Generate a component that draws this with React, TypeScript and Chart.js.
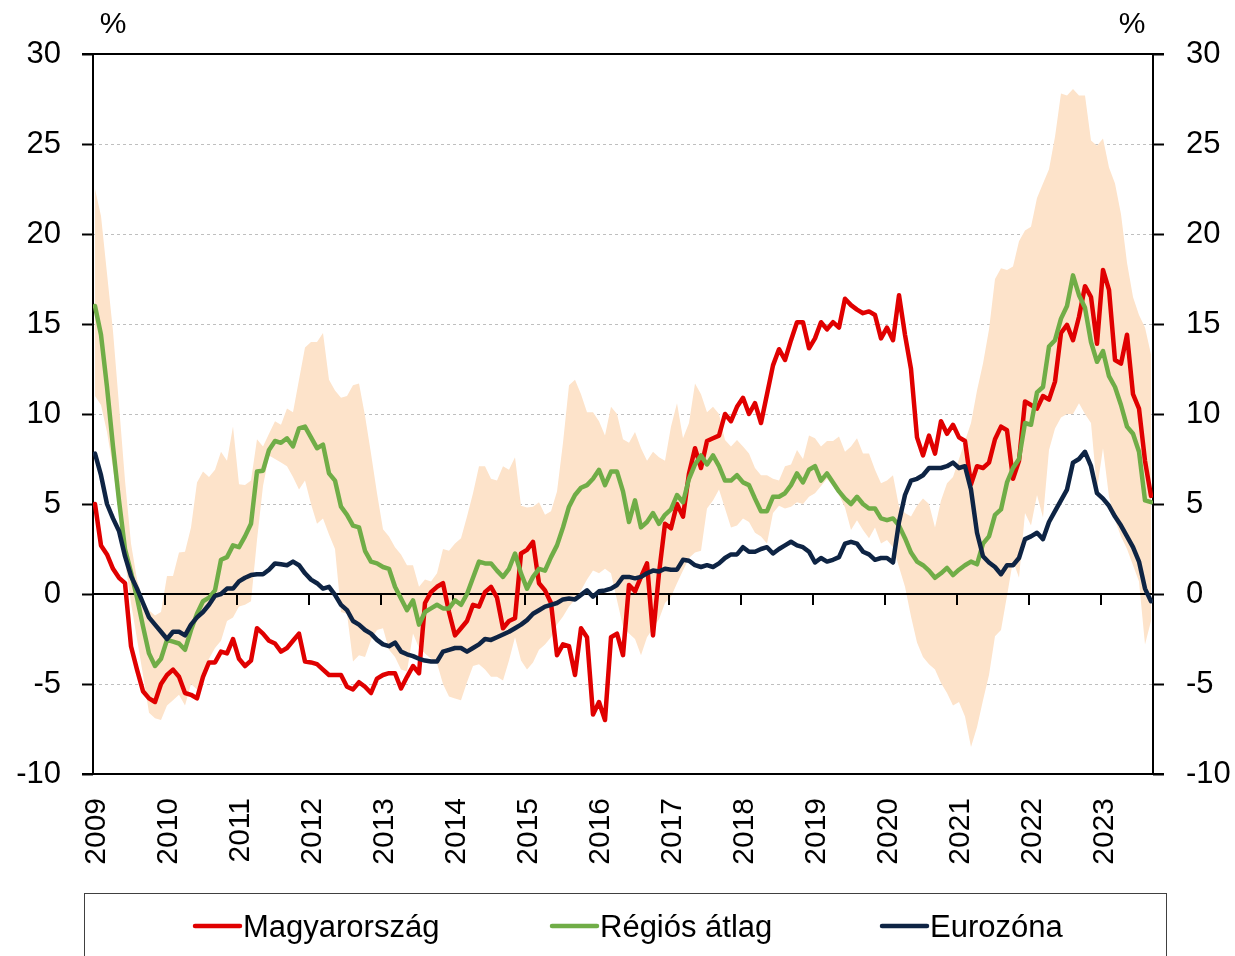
import React, { useEffect, useRef } from 'react';
import { Chart, registerables } from 'chart.js';

Chart.register(...registerables);

const FONT = '"Liberation Sans", Arial, sans-serif';

// Year labels (January of each year)
const yearLabels = ['2009', '2010', '2011', '2012', '2013', '2014', '2015', '2016', '2017', '2018', '2019', '2020', '2021', '2022', '2023'];

// Monthly values, Jan 2009 .. Sep 2023
const hungary = [
  5.0, 2.7, 2.2, 1.4, 0.9, 0.6, -2.9, -4.2, -5.4, -5.8, -6.0, -5.0,
  -4.5, -4.2, -4.6, -5.5, -5.6, -5.8, -4.6, -3.8, -3.8, -3.2, -3.3, -2.5,
  -3.6, -4.0, -3.7, -1.9, -2.2, -2.6, -2.75, -3.2, -3.0, -2.6, -2.2, -3.75,
  -3.8, -3.9, -4.2, -4.5, -4.5, -4.5, -5.15, -5.3, -4.9, -5.15, -5.5, -4.7,
  -4.5, -4.4, -4.4, -5.25, -4.6, -4.0, -4.4, -0.5, 0.1, 0.4, 0.6, -1.0,
  -2.3, -1.9, -1.5, -0.6, -0.7, 0.1, 0.4, -0.2, -1.9, -1.5, -1.35, 2.25,
  2.45, 2.9, 0.6, 0.2, -0.5, -3.4, -2.8, -2.9, -4.5, -1.9, -2.4, -6.7,
  -6.0, -7.0, -2.4, -2.2, -3.4, 0.5, 0.15, 0.95, 1.7, -2.3, 1.15, 3.9,
  3.65, 5.0, 4.3, 6.7, 8.1, 7.0, 8.5, 8.65, 8.8, 10.0, 9.6, 10.4,
  10.9, 10.0, 10.6, 9.5, 11.1, 12.7, 13.6, 13.0, 14.1, 15.1, 15.1, 13.65,
  14.2, 15.1, 14.7, 15.1, 14.8, 16.4, 16.05, 15.8, 15.6, 15.7, 15.5, 14.2,
  14.8, 14.1, 16.6, 14.4, 12.5, 8.7, 7.7, 8.8, 7.8, 9.6, 8.9, 9.4,
  8.7, 8.5, 6.1, 7.1, 7.0, 7.3, 8.6, 9.3, 9.1, 6.4, 7.4, 10.7,
  10.5, 10.3, 11.0, 10.8, 11.8, 14.5, 14.95, 14.1, 15.4, 17.1, 16.5, 13.9,
  18.0, 16.9, 13.0, 12.8, 14.4, 11.1, 10.3, 7.4, 5.45,
];

const regional = [
  16.0, 14.4, 11.5, 8.2, 5.2, 2.5, 1.2, -0.2, -1.8, -3.3, -4.0, -3.6,
  -2.55, -2.65, -2.75, -3.1, -2.0, -1.1, -0.4, -0.2, 0.2, 1.9, 2.05, 2.7,
  2.6, 3.2, 3.9, 6.8, 6.85, 8.0, 8.5, 8.4, 8.65, 8.2, 9.2, 9.3,
  8.7, 8.1, 8.3, 6.7, 6.3, 4.85, 4.4, 3.8, 3.7, 2.4, 1.8, 1.7,
  1.5, 1.4, 0.4, -0.25, -0.9, -0.35, -1.7, -1.0, -0.8, -0.6, -0.8, -0.8,
  -0.35, -0.6, 0.0, 0.9, 1.8, 1.7, 1.7, 1.3, 0.95, 1.4, 2.25, 1.15,
  0.3, 0.95, 1.4, 1.3, 2.05, 2.7, 3.7, 4.85, 5.5, 5.9, 6.05, 6.4,
  6.9, 6.05, 6.8, 6.8, 5.7, 4.0, 5.2, 3.7, 4.0, 4.5, 3.9, 4.4,
  4.7, 5.5, 5.1, 6.4, 7.2, 7.7, 7.2, 7.7, 7.1, 6.3, 6.3, 6.6,
  6.2, 6.05, 5.3, 4.6, 4.6, 5.4, 5.4, 5.6, 6.05, 6.7, 6.2, 6.9,
  7.1, 6.3, 6.7, 6.2, 5.7, 5.3, 5.0, 5.4, 5.0, 4.75, 4.75, 4.2,
  4.1, 4.2, 3.8, 3.1, 2.3, 1.8, 1.6, 1.3, 0.9, 1.15, 1.45, 1.05,
  1.35, 1.6, 1.8, 1.65, 2.8, 3.2, 4.4, 4.7, 6.2, 7.0, 7.5, 9.5,
  9.4, 11.2, 11.5, 13.75, 14.1, 15.3, 16.0, 17.7, 16.6, 15.9, 14.0, 12.9,
  13.5, 12.1, 11.5, 10.5, 9.3, 8.9, 7.9, 5.2, 5.1,
];

const eurozone = [
  7.8, 6.6, 5.0, 4.2, 3.5, 2.1, 1.0, 0.3, -0.5, -1.3, -1.7, -2.1,
  -2.5, -2.1, -2.1, -2.3, -1.7, -1.3, -1.0, -0.6, -0.1, 0.0, 0.3, 0.3,
  0.7, 0.9, 1.05, 1.1, 1.1, 1.35, 1.7, 1.65, 1.6, 1.8, 1.6, 1.15,
  0.8, 0.6, 0.3, 0.4, -0.05, -0.6, -0.9, -1.5, -1.7, -2.0, -2.2, -2.55,
  -2.8, -2.9, -2.7, -3.2, -3.35, -3.45, -3.6, -3.7, -3.75, -3.75, -3.2, -3.1,
  -3.0, -3.0, -3.2, -3.0, -2.8, -2.5, -2.55, -2.4, -2.25, -2.1, -1.9, -1.7,
  -1.45, -1.1, -0.9, -0.7, -0.6, -0.5, -0.3, -0.25, -0.3, -0.05, 0.2, -0.15,
  0.15, 0.2, 0.3, 0.5, 0.95, 0.95, 0.87, 0.95, 1.15, 1.3, 1.25, 1.4,
  1.35, 1.35, 1.9, 1.85, 1.6, 1.5, 1.6, 1.5, 1.7, 2.0, 2.2, 2.2,
  2.6, 2.35, 2.35, 2.5, 2.6, 2.25, 2.5, 2.7, 2.9, 2.7, 2.6, 2.35,
  1.75, 2.0, 1.8, 1.9, 2.05, 2.8, 2.9, 2.8, 2.35, 2.2, 1.9, 2.0,
  2.0, 1.75, 4.0, 5.5, 6.3, 6.4, 6.6, 7.0, 7.0, 7.0, 7.1, 7.3,
  7.0, 7.1, 5.8, 3.4, 2.1, 1.75, 1.5, 1.1, 1.6, 1.6, 2.0, 3.05,
  3.2, 3.4, 3.05, 4.0, 4.6, 5.2, 5.8, 7.3, 7.5, 7.9, 7.1, 5.6,
  5.3, 4.9, 4.3, 3.8, 3.2, 2.6, 1.8, 0.3, -0.4,
];

// Range of the countries of the region (min / max)
const regionMin = [
  11.0, 10.5, 9.0, 7.0, 4.5, 1.8, -0.5, -2.5, -4.5, -6.6, -6.9, -7.0,
  -6.2, -5.9, -5.6, -6.2, -5.0, -5.3, -4.4, -3.6, -3.0, -2.6, -1.5, -1.3,
  -0.7, -0.6, -0.4, 3.0, 6.0, 7.7, 7.5, 7.3, 7.1, 6.5, 5.8, 6.3,
  5.0, 3.9, 4.2, 3.3, 2.5, -1.0, -1.1, -3.75, -3.4, -3.5, -2.55, -2.0,
  -1.9, -3.1, -3.5, -4.2, -4.3, -2.2, -3.0, -3.3, -3.6, -3.85, -5.0, -5.7,
  -5.8, -5.9, -4.9, -4.0, -3.9, -4.2, -4.6, -4.6, -4.8, -3.7, -2.4, -3.7,
  -4.2, -3.8, -3.1, -2.8, -2.4, -1.7, -1.25, -0.7, -0.3, 0.2, 0.8, 1.3,
  1.15, 1.4, 1.15, -0.35, -1.8, -2.2, -2.5, -3.4, -2.4, -1.9, -1.4, -0.5,
  -0.15, 0.6, 1.3, 2.0, 2.3, 2.4, 4.75, 5.2, 5.8, 4.75, 3.7, 3.8,
  4.2, 4.0, 3.4, 3.2, 2.8, 4.5, 4.9, 4.75, 4.85, 5.1, 5.0, 5.4,
  5.6, 6.0, 6.4, 6.0, 5.5, 4.8, 3.55, 4.1, 3.55, 3.1, 3.7, 2.8,
  3.0, 2.6, 1.5, 0.4, -1.25, -2.7, -3.5, -3.9, -4.2, -4.95, -5.5, -6.2,
  -6.0, -6.8, -8.5, -7.4, -5.9, -4.5, -2.35, -2.0, -0.1, 1.85, 0.9, 4.5,
  3.8, 5.5, 4.25, 8.0, 9.2, 9.8, 10.0, 10.0, 10.6, 10.0, 9.5, 5.8,
  8.1, 5.4, 4.1, 3.2, 2.5, 1.6, 0.7, -2.8, -1.5,
];

const regionMax = [
  22.5, 21.0, 17.8, 14.6, 10.5, 6.3, 2.8, 0.8, -0.3, -0.9, -1.2, -1.0,
  1.0, 1.0, 2.3, 2.35, 3.7, 6.2, 6.8, 6.5, 6.9, 7.9, 7.4, 9.3,
  6.1, 6.05, 6.3, 8.6, 8.2, 8.9, 9.6, 9.4, 10.3, 10.1, 11.9, 13.7,
  14.0, 14.0, 14.5, 11.9, 11.3, 10.9, 11.0, 11.6, 11.7, 9.9, 7.8, 5.6,
  3.6, 3.2, 2.6, 2.2, 1.6, 1.6, 0.4, 0.8, 0.7, 1.15, 2.5, 2.4,
  2.8, 3.1, 4.3, 5.6, 7.1, 7.1, 6.4, 6.3, 7.1, 6.9, 7.6, 4.9,
  4.8, 4.85, 5.1, 4.4, 4.6, 5.7, 8.4, 11.6, 11.9, 11.1, 10.1, 10.1,
  9.6, 8.8, 10.4, 10.0, 8.6, 8.4, 9.0, 8.1, 7.4, 7.9, 7.6, 7.4,
  9.3, 10.6, 8.65, 9.5, 11.7, 11.1, 10.1, 10.4, 10.0, 8.55, 8.2, 8.55,
  8.2, 7.8, 7.0, 6.6, 6.6, 6.4, 6.3, 7.1, 7.2, 8.0, 7.5, 8.8,
  8.65, 8.2, 8.5, 8.5, 8.75, 7.9, 8.2, 8.65, 7.8, 7.8, 6.9, 6.15,
  6.3, 6.6, 4.85, 4.5, 4.3, 4.9, 5.3, 5.0, 3.7, 5.2, 6.15, 6.5,
  7.5, 8.5, 9.5, 11.3, 12.8, 14.7, 17.5, 18.1, 18.0, 18.2, 19.6, 20.2,
  20.4, 22.0, 22.8, 23.6, 25.4, 27.8, 27.7, 28.05, 27.7, 27.7, 25.2, 24.9,
  25.3, 23.7, 22.8, 21.1, 18.4, 16.5, 15.5, 14.8, 13.3,
];

const seriesLabels = ['Magyarország', 'Régiós átlag', 'Eurozóna'];
const RED = '#E00000';
const GREEN = '#70AD47';
const NAVY = '#0E2444';
const BAND = '#FDE3CA';

const BAND_INDEX = 1;

const toPoints = (arr: number[]) => arr.map((v, i) => ({ x: i, y: v }));

const framePlugin = {
  id: 'frame',
  afterDatasetDraw(chart: any, args: any) {
    if (args.index !== BAND_INDEX) return;
    const { ctx, chartArea } = chart;
    const { left, right, top, bottom } = chartArea;
    const xs = chart.scales.x;
    const zero = chart.scales.y.getPixelForValue(0);
    ctx.save();
    ctx.strokeStyle = '#000';
    ctx.lineWidth = 2;
    ctx.beginPath();
    ctx.moveTo(left - 11, top);
    ctx.lineTo(right + 11, top);
    ctx.moveTo(left - 11, bottom);
    ctx.lineTo(right + 11, bottom);
    ctx.moveTo(left, top);
    ctx.lineTo(left, bottom);
    ctx.moveTo(right, top);
    ctx.lineTo(right, bottom);
    ctx.moveTo(left, zero);
    ctx.lineTo(right, zero);
    xs.ticks.forEach((t: any) => {
      const px = xs.getPixelForValue(t.value);
      ctx.moveTo(px, zero);
      ctx.lineTo(px, zero + 11);
    });
    ctx.stroke();
    ctx.restore();
  },
};

const legendPlugin = {
  id: 'customLegend',
  afterDraw(chart: any) {
    const { ctx } = chart;
    ctx.save();
    // percent signs
    ctx.fillStyle = '#000';
    ctx.font = `30px ${FONT}`;
    ctx.textAlign = 'center';
    ctx.textBaseline = 'middle';
    ctx.fillText('%', 113, 25);
    ctx.fillText('%', 1132, 25);
    // legend box
    ctx.strokeStyle = '#404040';
    ctx.lineWidth = 1;
    ctx.strokeRect(84.5, 893.5, 1082, 100);
    const items = [
      { label: seriesLabels[0], color: RED, x1: 195, x2: 240 },
      { label: seriesLabels[1], color: GREEN, x1: 552, x2: 597 },
      { label: seriesLabels[2], color: NAVY, x1: 882, x2: 927 },
    ];
    ctx.font = `31px ${FONT}`;
    ctx.textAlign = 'left';
    items.forEach((it) => {
      ctx.strokeStyle = it.color;
      ctx.lineWidth = 4.5;
      ctx.lineCap = 'round';
      ctx.beginPath();
      ctx.moveTo(it.x1, 926);
      ctx.lineTo(it.x2, 926);
      ctx.stroke();
      ctx.fillStyle = '#000';
      ctx.fillText(it.label, it.x2 + 3, 928);
    });
    ctx.restore();
  },
};

export default function App() {
  const canvasRef = useRef<HTMLCanvasElement | null>(null);

  useEffect(() => {
    if (!canvasRef.current) return;
    const lineDs = (label: string, data: number[], color: string, order: number) => ({
      label,
      data: toPoints(data),
      borderColor: color,
      backgroundColor: color,
      borderWidth: 4.5,
      pointRadius: 0,
      fill: false,
      tension: 0,
      borderJoinStyle: 'round' as const,
      borderCapStyle: 'round' as const,
      order,
    });
    const chart = new Chart(canvasRef.current, {
      type: 'line',
      data: {
        datasets: [
          {
            label: 'min',
            data: toPoints(regionMin),
            borderColor: 'rgba(0,0,0,0)',
            borderWidth: 0,
            pointRadius: 0,
            fill: false,
            order: 6,
          },
          {
            label: 'max',
            data: toPoints(regionMax),
            borderColor: 'rgba(0,0,0,0)',
            backgroundColor: BAND,
            borderWidth: 0,
            pointRadius: 0,
            fill: '-1',
            order: 5,
          },
          lineDs(seriesLabels[0], hungary, RED, 3),
          lineDs(seriesLabels[1], regional, GREEN, 2),
          lineDs(seriesLabels[2], eurozone, NAVY, 1),
        ],
      },
      options: {
        animation: false,
        responsive: false,
        devicePixelRatio: 1,
        events: [],
        layout: { padding: { top: 54, left: 0, right: 0, bottom: 0 } },
        plugins: {
          legend: { display: false },
          tooltip: { enabled: false },
        },
        scales: {
          x: {
            type: 'linear',
            min: -1 / 3,
            max: hungary.length - 1 + 1 / 3,
            afterBuildTicks: (axis: any) => {
              axis.ticks = yearLabels.map((_, k) => ({ value: 12 * k - 1 / 3 }));
            },
            afterFit: (axis: any) => {
              axis.height = 182;
            },
            grid: { display: false, drawTicks: false },
            border: { display: false },
            ticks: {
              autoSkip: false,
              minRotation: 90,
              maxRotation: 90,
              padding: 24,
              labelOffset: 4,
              color: '#000',
              font: { family: FONT, size: 30 },
              callback: (_v: any, index: number) => yearLabels[index],
            },
          },
          y: {
            position: 'left',
            min: -10,
            max: 30,
            afterFit: (axis: any) => {
              axis.width = 93;
            },
            grid: {
              color: (c: any) => ([30, 0, -10].includes(c.tick?.value) ? 'rgba(0,0,0,0)' : '#BFBFBF'),
              lineWidth: 1,
              tickColor: '#000',
              tickLength: 11,
              tickWidth: 2,
            },
            border: { display: false, dash: [3, 3] },
            ticks: {
              stepSize: 5,
              padding: 21,
              color: '#000',
              font: { family: FONT, size: 31 },
            },
          },
          y1: {
            position: 'right',
            min: -10,
            max: 30,
            afterFit: (axis: any) => {
              axis.width = 82;
            },
            grid: {
              drawOnChartArea: false,
              tickColor: '#000',
              tickLength: 11,
              tickWidth: 2,
            },
            border: { display: false },
            ticks: {
              stepSize: 5,
              padding: 22,
              color: '#000',
              font: { family: FONT, size: 31 },
            },
          },
        },
      },
      plugins: [framePlugin, legendPlugin],
    });
    return () => chart.destroy();
  }, []);

  return (
    <div style={{ position: 'absolute', left: 0, top: 0, width: 1235, height: 956 }}>
      <canvas ref={canvasRef} width={1235} height={956} />
    </div>
  );
}
